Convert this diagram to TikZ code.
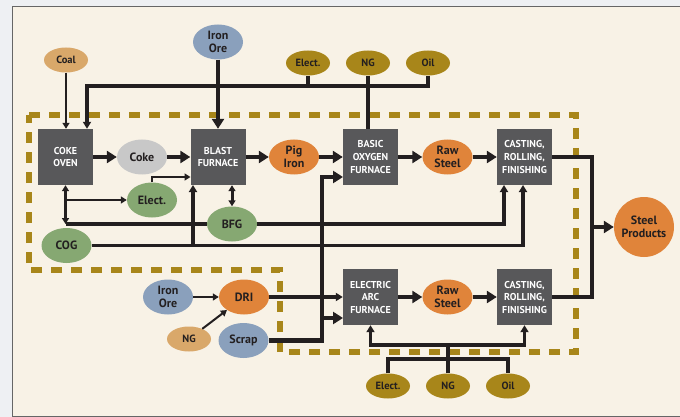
\documentclass[tikz,border=0pt]{standalone}
\usepackage{fontspec}
\setmainfont{PT Sans}
\usetikzlibrary{shapes.geometric,arrows.meta}
\definecolor{outside}{HTML}{EEF0F3}
\definecolor{panel}{HTML}{F8F2E6}
\definecolor{unitgray}{HTML}{58585A}
\definecolor{gold}{HTML}{A8861A}
\definecolor{tan}{HTML}{D9A86A}
\definecolor{oreblue}{HTML}{8AA0BC}
\definecolor{cokegray}{HTML}{C8C8C8}
\definecolor{gasgreen}{HTML}{86A872}
\definecolor{hot}{HTML}{E0843A}
\definecolor{ink}{HTML}{231F20}

\begin{document}
\begin{tikzpicture}[x=10pt,y=10pt]
    \tikzstyle{every node}+=[inner sep=0pt]
    \tikzstyle{unit}=[rectangle,fill=unitgray,text=white,minimum width=55pt,minimum height=56pt,align=center,font=\bfseries\fontsize{10}{12.5}\selectfont]
    \tikzstyle{blob}=[ellipse,minimum width=50pt,minimum height=35pt,align=center,text=ink,font=\bfseries\fontsize{12}{13}\selectfont]
    \tikzstyle{small}=[ellipse,minimum width=44pt,minimum height=25pt,text=ink,font=\bfseries\fontsize{10.5}{12}\selectfont]
    \tikzstyle{heavy}=[ink,line width=4.6pt,-{Triangle[length=10pt,width=12pt]}]
    \tikzstyle{heavyline}=[ink,line width=4.6pt]
    \tikzstyle{medium}=[ink,line width=3.2pt,-{Triangle[length=7pt,width=8pt]}]
    \tikzstyle{mediumline}=[ink,line width=3.2pt]
    \tikzstyle{mediumboth}=[ink,line width=3pt,{Triangle[length=6pt,width=7pt]}-{Triangle[length=6pt,width=7pt]}]
    \tikzstyle{thin}=[ink,line width=2pt,-{Triangle[length=6pt,width=7pt]}]
    \useasboundingbox (0,0) rectangle (68,-41.7);
    \clip (0,0) rectangle (68,-41.7);
    \fill [outside] (0,0) rectangle (68,-41.7);
    \draw [panel,fill=panel] (1.2,-0.7) rectangle (69,-41.6);
    \draw [black!60,line width=1pt] (1.2,-0.7) rectangle (69,-41.6);
    \draw [gold,line width=5.5pt,dash pattern=on 11pt off 9pt] (2.9,-11.5) -- (57.6,-11.5) -- (57.6,-35.2) -- (28,-35.2) -- (28,-27) -- (2.9,-27) -- cycle;
    \node [unit] (oven) at (6.55,-15.7) {COKE\\OVEN};
    \node [blob,fill=cokegray] (coke) at (14.2,-15.7) {Coke};
    \node [unit] (blast) at (21.8,-15.7) {BLAST\\FURNACE};
    \node [blob,fill=hot] (pig) at (29.4,-15.7) {Pig\\Iron};
    \node [unit] (bof) at (37.05,-15.7) {BASIC\\OXYGEN\\FURNACE};
    \node [blob,fill=hot] (rawA) at (44.75,-15.7) {Raw\\Steel};
    \node [unit] (crfA) at (52.45,-15.7) {CASTING,\\ROLLING,\\FINISHING};
    \node [unit] (eaf) at (37.05,-29.7) {ELECTRIC\\ARC\\FURNACE};
    \node [blob,fill=hot] (rawB) at (44.75,-29.7) {Raw\\Steel};
    \node [unit] (crfB) at (52.45,-29.7) {CASTING,\\ROLLING,\\FINISHING};
    \node [small,fill=tan] (coal) at (6.6,-6) {Coal};
    \node [blob,fill=oreblue] (oreA) at (21.8,-4.2) {Iron\\Ore};
    \node [small,fill=gold] (elecA) at (30.8,-6.3) {Elect.};
    \node [small,fill=gold] (ngA) at (36.8,-6.3) {NG};
    \node [small,fill=gold] (oilA) at (42.8,-6.3) {Oil};
    \node [blob,fill=gasgreen] (elecG) at (15.2,-20) {Elect.};
    \node [blob,fill=gasgreen] (bfg) at (23.2,-22.4) {BFG};
    \node [blob,fill=gasgreen] (cog) at (6.65,-24.55) {COG};
    \node [blob,fill=oreblue] (oreB) at (16.8,-29.7) {Iron\\Ore};
    \node [blob,fill=hot] (dri) at (24.4,-29.7) {DRI};
    \node [small,fill=tan] (ngB) at (18.9,-33.9) {NG};
    \node [blob,fill=oreblue] (scrap) at (24.35,-34.05) {Scrap};
    \node [small,fill=gold] (elecB) at (38.8,-38.6) {Elect.};
    \node [small,fill=gold] (ngC) at (44.8,-38.6) {NG};
    \node [small,fill=gold] (oilB) at (50.8,-38.6) {Oil};
    \node [circle,fill=hot,minimum size=60pt,align=center,text=ink,font=\bfseries\fontsize{12}{13}\selectfont] (product) at (64.4,-22.7) {Steel\\Products};
    \coordinate (ovenfeed) at (8.7,-8.6);
    \coordinate (blastfeed) at (19.05,-17.7);
    \coordinate (blastfeedB) at (19.3,-18.5);
    \coordinate (ovenlow) at (6.55,-22.4);
    \coordinate (oventap) at (6.55,-20);
    \coordinate (crffeedA) at (50.4,-18.5);
    \coordinate (crffeedB) at (52.3,-18.5);
    \coordinate (riser) at (32.2,-17.7);
    \coordinate (riserlow) at (32.2,-31.8);
    \coordinate (bofhot) at (34.3,-17.7);
    \coordinate (eafhot) at (34.3,-31.8);
    \coordinate (outlow) at (59.2,-29.7);
    \coordinate (outmid) at (59.2,-22.7);
    \coordinate (lowjoin) at (44.8,-34.5);
    \coordinate (lowbus) at (50.8,-35.9);
    \draw [thin] (coal.south) -- (coal.south |- oven.north);
    \draw [heavy] (oreA.south) -- (blast.north);
    \draw [medium] (elecA.south) |- (ovenfeed) -- (ovenfeed |- oven.north);
    \draw [mediumline] (oilA.south) |- (elecA.south |- ovenfeed);
    \draw [mediumline] (ngA.south) -- (ngA.south |- bof.north);
    \draw [heavy] (oven) -- (coke);
    \draw [heavy] (coke) -- (blast);
    \draw [heavy] (blast) -- (pig);
    \draw [heavy] (pig) -- (bof);
    \draw [heavy] (bof) -- (rawA);
    \draw [heavy] (rawA) -- (crfA);
    \draw [heavy] (eaf) -- (rawB);
    \draw [heavy] (rawB) -- (crfB);
    \draw [thin] (elecG.north) |- (blastfeed);
    \draw [mediumboth] (oven.south) -- (ovenlow);
    \draw [mediumline] (ovenlow) -- (bfg.west);
    \draw [thin] (oventap) -- (elecG.west);
    \draw [mediumboth] (blast.south -| bfg.north) -- (bfg.north);
    \draw [medium] (bfg.east) -| (crffeedA);
    \draw [medium] (cog.east) -| (crffeedB);
    \draw [medium] (cog.east -| blastfeedB) -- (blastfeedB);
    \draw [heavy] (scrap.east) -| (riser) -- (bofhot);
    \draw [heavy] (riserlow) -- (eafhot);
    \draw [medium] (dri) -- (eaf);
    \draw [thin] (oreB) -- (dri);
    \draw [thin] (ngB) -- (dri);
    \draw [heavyline] (crfA.east) -| (outlow) -- (crfB.east);
    \draw [heavy] (outmid) -- (product);
    \draw [medium] (lowjoin) -| (eaf.south);
    \draw [medium] (lowjoin) -| (crfB.south);
    \draw [mediumline] (ngC.north) -- (lowjoin);
    \draw [mediumline] (elecB.north) |- (lowbus) -- (oilB.north);
\end{tikzpicture}
\end{document}
